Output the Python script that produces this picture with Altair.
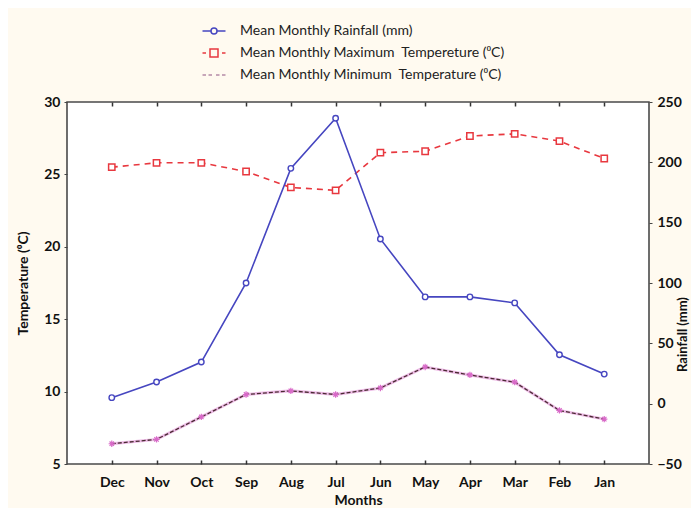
import altair as alt
import pandas as pd

# ---- data ----
months = ["Dec", "Nov", "Oct", "Sep", "Aug", "Jul", "Jun", "May", "Apr", "Mar", "Feb", "Jan"]
rainfall = [5, 18, 34.5, 100, 195, 236.5, 136.5, 88.5, 88.5, 83.5, 40.5, 24.5]
max_temp = [25.5, 25.8, 25.8, 25.2, 24.1, 23.9, 26.5, 26.6, 27.65, 27.8, 27.3, 26.1]
min_temp = [6.4, 6.7, 8.25, 9.8, 10.05, 9.8, 10.25, 11.7, 11.15, 10.65, 8.7, 8.1]
series_names = [
    "Mean Monthly Rainfall (mm)",
    "Mean Monthly Maximum\u00a0 Tempereture (\u2070C)",
    "Mean Monthly Minimum\u00a0 Temperature (\u2070C)",
]
temp_ticks = [5, 10, 15, 20, 25, 30]
rain_ticks = [-50, 0, 50, 100, 150, 200, 250]

BLUE = "#4646c0"
RED = "#e8383f"
PINK = "#d86ac8"
DARK = "#4a2a32"
FONT = "Lato"

df = pd.DataFrame({"month": months, "rain": rainfall, "tmax": max_temp, "tmin": min_temp})
base = alt.Chart(df)

x_scale = alt.Scale(type="point", domain=months, padding=1)
t_scale = alt.Scale(domain=[5, 30], nice=False, zero=False)
r_scale = alt.Scale(domain=[-50, 250], nice=False, zero=False)

x_main = alt.X("month:O", scale=x_scale, axis=alt.Axis(
    orient="bottom", title="Months", ticks=False, tickSize=0, domain=False, grid=False,
    labelAngle=0, labelFont=FONT, labelFontWeight="bold", labelFontSize=14, labelColor="#111",
    labelPadding=11, titleFont=FONT, titleFontWeight="bold", titleFontSize=14, titleColor="#111",
    titlePadding=4))
x_top = alt.X("month:O", scale=x_scale, axis=alt.Axis(
    orient="top", title=None, labels=False, domain=False, grid=False,
    ticks=True, tickSize=4, offset=-4, tickColor="#333", tickWidth=1.5))
x_bot_ticks = alt.X("month:O", scale=x_scale, axis=alt.Axis(
    orient="bottom", title=None, labels=False, domain=False, grid=False,
    ticks=True, tickSize=4, offset=-4, tickColor="#333", tickWidth=1.5))
x_none = alt.X("month:O", scale=x_scale, axis=None)

y_left = alt.Axis(orient="left", values=temp_ticks, title="Temperature (\u2070C)", domain=False,
                  grid=False, tickSize=3, tickColor="#444", labelFont=FONT, labelFontWeight="bold",
                  labelFontSize=14, labelColor="#111", labelPadding=4, titleFont=FONT,
                  titleFontWeight="bold", titleFontSize=14, titleColor="#111", titlePadding=13)
y_right = alt.Axis(orient="right", values=rain_ticks, title="Rainfall (mm)", domain=False,
                   grid=False, tickSize=3, tickColor="#444", labelFont=FONT, labelFontWeight="bold",
                   labelFontSize=14, labelColor="#111", labelPadding=5, titleFont=FONT,
                   titleFontWeight="bold", titleFontSize=13, titleColor="#111", titlePadding=8,
                   titleAngle=270, titleY=232)

# rainfall
rain_line = base.mark_line(color=BLUE, strokeWidth=1.6).encode(
    x=x_main, y=alt.Y("rain:Q", scale=r_scale, axis=y_right))
rain_pts = base.mark_point(shape="circle", size=30, filled=True, fill="white", stroke=BLUE,
                           strokeWidth=1.4, opacity=1).encode(
    x=x_none, y=alt.Y("rain:Q", scale=r_scale, axis=None))

# maximum temperature
max_line = base.mark_line(color=RED, strokeWidth=1.6, strokeDash=[6, 5]).encode(
    x=x_top, y=alt.Y("tmax:Q", scale=t_scale, axis=y_left))
max_pts = base.mark_point(shape="square", size=40, filled=True, fill="white", stroke=RED,
                          strokeWidth=1.5, opacity=1).encode(
    x=x_none, y=alt.Y("tmax:Q", scale=t_scale, axis=None))

# minimum temperature
min_glow = base.mark_line(color=PINK, strokeWidth=3, opacity=0.45).encode(
    x=x_bot_ticks, y=alt.Y("tmin:Q", scale=t_scale, axis=None))
min_line = base.mark_line(color=DARK, strokeWidth=1.3, strokeDash=[4, 2]).encode(
    x=x_none, y=alt.Y("tmin:Q", scale=t_scale, axis=None))
star = "M-1,0L1,0M0,-1L0,1M-0.7,-0.7L0.7,0.7M-0.7,0.7L0.7,-0.7"
min_pts = base.mark_point(shape=star, size=40, filled=False, stroke=PINK, strokeWidth=1.2,
                          opacity=1).encode(
    x=x_none, y=alt.Y("tmin:Q", scale=t_scale, axis=None))

# legend (driven by an empty layer whose scales carry the three series)
sym_rain = ("M-1.15,0L-0.3,0M0.3,0L1.15,0"
            "M0.3,0A0.3,0.3 0 1 1 -0.3,0A0.3,0.3 0 1 1 0.3,0")
sym_max = ("M-1.15,0L-0.8,0M0.8,0L1.15,0"
           "M-0.4,-0.4L0.4,-0.4L0.4,0.4L-0.4,0.4Z")
sym_min = "M-1.15,0L-0.8,0M-0.55,0L-0.2,0M0.2,0L0.55,0M0.8,0L1.15,0"
leg = dict(orient="none", legendX=136, legendY=-82, title=None, labelFont=FONT,
           labelFontSize=14, labelColor="#222", labelLimit=0, symbolSize=400, labelOffset=15,
           rowPadding=4, symbolStrokeWidth=1.5, padding=0)
legend_layer = base.mark_point(filled=False, opacity=1, strokeWidth=1.5).encode(
    x=x_none,
    y=alt.Y("rain:Q", scale=r_scale, axis=None),
    color=alt.Color("series:N", scale=alt.Scale(domain=series_names,
                                                range=[BLUE, RED, "#b58aa6"]),
                    legend=alt.Legend(**leg)),
    shape=alt.Shape("series:N", scale=alt.Scale(domain=series_names,
                                                range=[sym_rain, sym_max, sym_min]),
                    legend=alt.Legend(**leg)),
).transform_calculate(series="'none'").transform_filter("false")

chart = alt.layer(
    max_line, max_pts, min_glow, min_line, min_pts, rain_line, rain_pts, legend_layer
).resolve_scale(y="independent").resolve_axis(x="independent", y="independent").properties(
    width=582, height=362,
    autosize=alt.AutoSizeParams(type="none"),
    padding={"left": 59, "top": 94, "right": 42, "bottom": 44},
    background="#fffaf0",
).configure_view(stroke="#4a4a4a", strokeWidth=1.6, fill="white")

chart.save("out.html", embed_options={"renderer": "svg", "actions": False})
